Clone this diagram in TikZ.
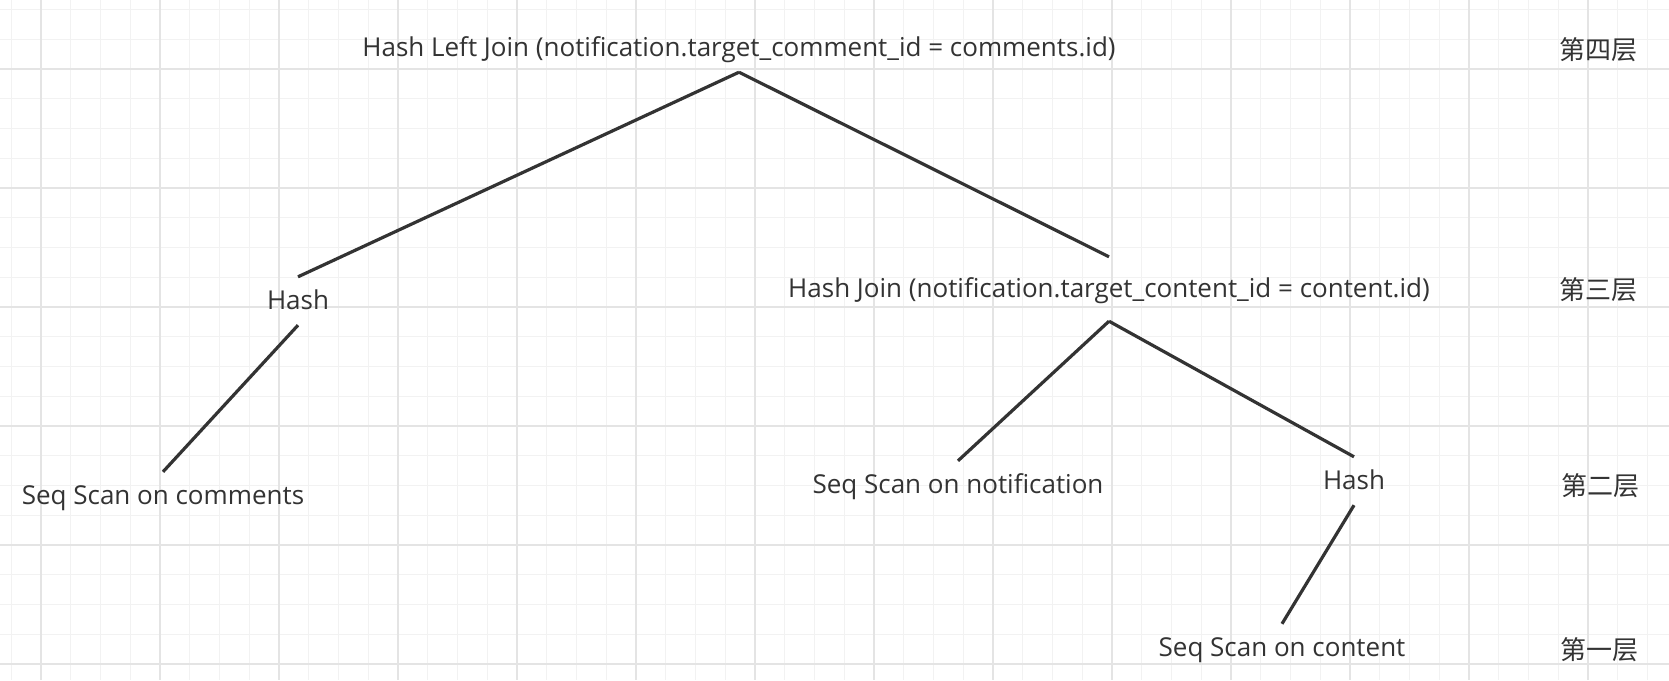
\documentclass[tikz,border=0pt]{standalone}
\usepackage{fontspec}
\setmainfont{Open Sans}
\newfontfamily\cjk{Noto Sans CJK SC}
\usetikzlibrary{arrows.meta}
\definecolor{ink}{HTML}{333333}
\definecolor{gridminor}{HTML}{F2F2F2}
\definecolor{gridmajor}{HTML}{E4E4E4}
\tikzset{opnode/.style={text=ink, font=\fontsize{26}{30}\selectfont, inner xsep=2pt, inner ysep=9.5pt, text height=22.5pt, text depth=6.5pt}}
\tikzset{opedge/.style={draw=ink, line width=3.2pt}}
\tikzset{layer/.style={text=ink, font=\cjk\fontsize{26}{30}\selectfont, inner sep=2pt}}
\newcommand{\opnode}[3] {\node at (#1) (#2) [opnode] {#3};}
\newcommand{\opedge}[2] {\draw [opedge] (#1.south) -- (#2.north);}
\newcommand{\layernode}[3] {\node at (#1) (#2) [layer] {#3};}

\begin{document}
\begin{tikzpicture}[x=1pt, y=-1pt]
\useasboundingbox [fill=white] (0,0) rectangle (1669,680);
% grid
\foreach \i in {0,...,56} \draw [gridminor, line width=1pt] ({11.25+\i*29.75},0) -- ++(0,680);
\foreach \j in {0,...,22} \draw [gridminor, line width=1pt] (0,{9.5+\j*29.75}) -- ++(1669,0);
\foreach \i in {0,...,13} \draw [gridmajor, line width=1.3pt] ({41+\i*119},0) -- ++(0,680);
\foreach \j in {0,...,5} \draw [gridmajor, line width=1.3pt] (0,{69+\j*119}) -- ++(1669,0);

\opnode {739,48} {hlj} {Hash Left Join (notification.target\_comment\_id = comments.id)};
\opnode {298,301} {hashl} {Hash};
\node at (1109,289) (hj) [opnode, inner ysep=17.5pt] {Hash Join (notification.target\_content\_id = content.id)};
\opnode {163,496} {scomments} {Seq Scan on comments};
\opnode {958,485} {snotif} {Seq Scan on notification};
\opnode {1354,481} {hashr} {Hash};
\opnode {1282,648} {scontent} {Seq Scan on content};

\layernode {1598,50} {L4} {第四层};
\layernode {1598,290} {L3} {第三层};
\layernode {1600,486} {L2} {第二层};
\layernode {1599,650} {L1} {第一层};

\opedge{hlj}{hashl};
\opedge{hlj}{hj};
\opedge{hashl}{scomments};
\opedge{hj}{snotif};
\opedge{hj}{hashr};
\opedge{hashr}{scontent};
\end{tikzpicture}
\end{document}
